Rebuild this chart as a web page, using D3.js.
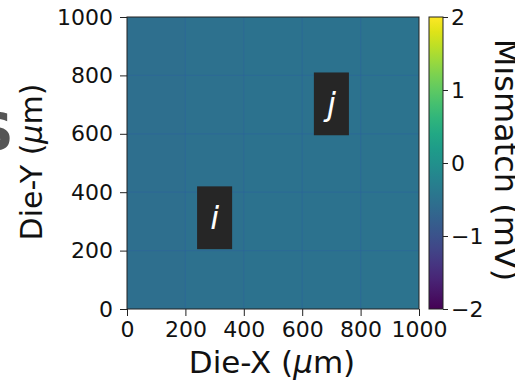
<!DOCTYPE html>
<html>
<head>
<meta charset="utf-8">
<script src="https://cdn.jsdelivr.net/npm/d3@7"></script>
<style>
  body { margin: 0; background: #fff; }
  svg text { font-family: "DejaVu Sans", sans-serif; fill: #111; }
</style>
</head>
<body>
<svg id="chart" width="515" height="382"></svg>
<script>
// die grid edges (um) and mismatch per cell (mV), nearly flat map
const xEdges = [0, 200, 400, 600, 800, 1000];
const yEdges = [0, 200, 400, 600, 800, 1000];
const mismatch = [
    [-0.55, -0.52, -0.50, -0.49, -0.48],
    [-0.55, -0.52, -0.50, -0.49, -0.48],
    [-0.55, -0.52, -0.50, -0.49, -0.48],
    [-0.55, -0.52, -0.50, -0.49, -0.48],
    [-0.55, -0.52, -0.50, -0.49, -0.48]
];
const axisTicks = [0, 200, 400, 600, 800, 1000];
const cbarTicks = [-2, -1, 0, 1, 2];
const cbarDomain = [-2, 2];
// labelled devices: name, x0, x1, y0, y1 (um)
const devices = [
    { name: "i", x0: 240, x1: 360, y0: 205, y1: 420 },
    { name: "j", x0: 640, x1: 760, y0: 595, y1: 810 }
];

const svg = d3.select("#chart");
const plot = { left: 127, right: 419, top: 17, bottom: 309 };

let x = d3.scaleLinear().domain([0, 1000]).range([plot.left, plot.right]);
let y = d3.scaleLinear().domain([0, 1000]).range([plot.bottom, plot.top]);
let color = d3.scaleSequential(d3.interpolateViridis).domain(cbarDomain);

// heatmap cells
for (let r = 0; r < mismatch.length; r++) {
    for (let c = 0; c < mismatch[r].length; c++) {
        svg.append("rect")
            .attr("x", x(xEdges[c]))
            .attr("y", y(yEdges[r + 1]))
            .attr("width", x(xEdges[c + 1]) - x(xEdges[c]))
            .attr("height", y(yEdges[r]) - y(yEdges[r + 1]))
            .attr("fill", color(mismatch[r][c]))
            .attr("shape-rendering", "crispEdges");
    }
}

// faint cell boundaries
const inner = axisTicks.slice(1, -1);
inner.forEach(v => {
    svg.append("line").attr("x1", x(v)).attr("x2", x(v))
        .attr("y1", plot.top).attr("y2", plot.bottom)
        .style("stroke", "#2a5fa0").style("stroke-opacity", 0.35).style("stroke-width", 1.2);
    svg.append("line").attr("x1", plot.left).attr("x2", plot.right)
        .attr("y1", y(v)).attr("y2", y(v))
        .style("stroke", "#2a5fa0").style("stroke-opacity", 0.35).style("stroke-width", 1.2);
});

// device boxes
devices.forEach(d => {
    svg.append("rect")
        .attr("x", x(d.x0)).attr("y", y(d.y1))
        .attr("width", x(d.x1) - x(d.x0)).attr("height", y(d.y0) - y(d.y1))
        .attr("fill", "#262626");
    svg.append("text")
        .attr("x", (x(d.x0) + x(d.x1)) / 2)
        .attr("y", (y(d.y0) + y(d.y1)) / 2 + 11)
        .attr("text-anchor", "middle")
        .style("font-size", "32px").style("font-style", "italic")
        .style("fill", "#fff")
        .text(d.name);
});

// frame
svg.append("rect")
    .attr("x", plot.left).attr("y", plot.top)
    .attr("width", plot.right - plot.left).attr("height", plot.bottom - plot.top)
    .attr("fill", "none").style("stroke", "#222").style("stroke-width", 1);

// axes
let xAxis = svg.append("g")
    .attr("transform", `translate(0,${plot.bottom})`)
    .call(d3.axisBottom(x).tickValues(axisTicks).tickSize(7).tickPadding(5).tickFormat(d3.format("d")));
let yAxis = svg.append("g")
    .attr("transform", `translate(${plot.left},0)`)
    .call(d3.axisLeft(y).tickValues(axisTicks).tickSize(7).tickPadding(7).tickFormat(d3.format("d")));
[xAxis, yAxis].forEach(g => {
    g.select(".domain").remove();
    g.selectAll(".tick line").style("stroke", "#222");
    g.selectAll(".tick text").style("font-size", "22px").style("font-family", "DejaVu Sans").style("fill", "#111");
});

// axis labels
svg.append("text")
    .attr("x", 272).attr("y", 373)
    .attr("text-anchor", "middle").style("font-size", "31px")
    .html('Die-X (<tspan font-style="italic">μ</tspan>m)');
svg.append("text")
    .attr("transform", `translate(42,162) rotate(-90)`)
    .attr("text-anchor", "middle").style("font-size", "30px")
    .html('Die-Y (<tspan font-style="italic">μ</tspan>m)');

// colour bar
const cb = { left: 429, width: 14 };
let cy = d3.scaleLinear().domain(cbarDomain).range([plot.bottom, plot.top]);
let defs = svg.append("defs");
let grad = defs.append("linearGradient").attr("id", "viridis")
    .attr("x1", 0).attr("y1", 1).attr("x2", 0).attr("y2", 0);
d3.range(0, 1.0001, 0.05).forEach(t => {
    grad.append("stop").attr("offset", t)
        .attr("stop-color", color(cbarDomain[0] + t * (cbarDomain[1] - cbarDomain[0])));
});
svg.append("rect")
    .attr("x", cb.left).attr("y", plot.top)
    .attr("width", cb.width).attr("height", plot.bottom - plot.top)
    .attr("fill", "url(#viridis)")
    .style("stroke", "#222").style("stroke-width", 1);
let cAxis = svg.append("g")
    .attr("transform", `translate(${cb.left + cb.width},0)`)
    .call(d3.axisRight(cy).tickValues(cbarTicks).tickSize(5).tickPadding(3)
        .tickFormat(d => d < 0 ? "\u2212" + Math.abs(d) : String(d)));
cAxis.select(".domain").remove();
cAxis.selectAll(".tick line").style("stroke", "#222");
cAxis.selectAll(".tick text").style("font-size", "22px").style("font-family", "DejaVu Sans").style("fill", "#111");

// colour bar label, clipped at the right edge as in the source figure
svg.append("text")
    .attr("transform", `translate(495,160) rotate(90)`)
    .attr("text-anchor", "middle").style("font-size", "32px")
    .text("Mismatch (mV)");

// stray glyph from neighbouring panel on the left edge
svg.append("text")
    .attr("x", -24).attr("y", 150)
    .style("font-size", "52px").style("font-weight", "bold").style("fill", "#555")
    .text("S");
</script>
</body>
</html>
